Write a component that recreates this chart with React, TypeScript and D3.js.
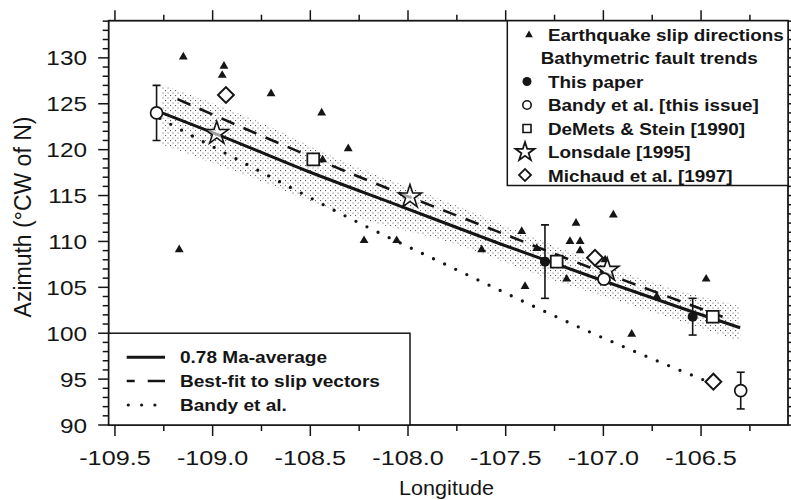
import React from 'react';
import * as d3 from 'd3';

const W = 791;
const H = 500;

// Axes
const xTickValues = [-109.5, -109.0, -108.5, -108.0, -107.5, -107.0, -106.5];
const xTickLabels = ['-109.5', '-109.0', '-108.5', '-108.0', '-107.5', '-107.0', '-106.5'];
const xMinorValues = [-109.25, -108.75, -108.25, -107.75, -107.25, -106.75, -106.25];
const yTickValues = [90, 95, 100, 105, 110, 115, 120, 125, 130];
const yTickLabels = ['90', '95', '100', '105', '110', '115', '120', '125', '130'];
const yMinorValues = d3.range(90, 135, 1).filter((v) => v % 5 !== 0);

// Earthquake slip directions (triangles)
const quakeLon = [-109.15, -108.942, -108.951, -108.701, -108.442, -108.306, -108.437, -109.171, -108.225, -108.058, -107.623, -107.418, -107.401, -107.341, -107.14, -107.171, -107.119, -107.119, -107.188, -106.949, -106.991, -106.474, -106.855, -106.727];
const quakeAz = [130.1, 129.1, 128.1, 126.1, 124.0, 120.1, 118.9, 109.1, 110.1, 110.1, 109.1, 111.1, 105.1, 109.25, 112.0, 110.0, 110.0, 109.0, 105.9, 112.9, 108.0, 105.9, 99.9, 104.0];

// This paper (filled circles) with error
const paperLon = [-107.299, -106.543];
const paperAz = [107.8, 101.8];
const paperErr = [4.0, 2.0];

// Bandy et al. [this issue] (open circles)
const bandyLon = [-109.287, -106.997, -106.297];
const bandyAz = [124.0, 105.9, 93.75];
const bandyErr = [3.0, 0, 2.0];

// DeMets & Stein [1990] (squares)
const demetsLon = [-108.485, -107.239, -106.44];
const demetsAz = [118.94, 107.8, 101.8];

// Lonsdale [1995] (stars)
const lonsLon = [-108.979, -107.99, -106.98];
const lonsAz = [121.78, 114.87, 106.88];

// Michaud et al. [1997] (diamonds)
const michLon = [-108.932, -107.043, -106.437];
const michAz = [125.95, 108.22, 94.72];

// 0.78 Ma-average (solid)
const avgLon = [-109.27, -108.98, -108.52, -108.04, -107.53, -107.02, -106.56, -106.3];
const avgAz = [124.1, 121.7, 117.7, 113.85, 109.75, 105.85, 102.45, 100.6];

// Best-fit to slip vectors (dashed)
const fitLon = [-109.18, -108.2, -107.64, -107.085, -106.39];
const fitAz = [125.5, 116.6, 111.9, 107.3, 101.8];

// Bandy et al. (dotted)
const bandyLineLon = [-109.27, -109.096, -108.851, -108.229, -107.794, -107.034, -106.394];
const bandyLineAz = [123.4, 121.4, 118.68, 111.79, 107.35, 99.8, 94.1];

// Uncertainty band (stippled)
const bandLon = [-109.261, -108.792, -108.297, -107.785, -107.273, -106.761, -106.3];
const bandUpper = [127.1, 123.3, 118.4, 114.2, 109.7, 105.6, 102.9];
const bandLower = [120.6, 116.9, 112.8, 109.9, 105.9, 102.4, 99.1];

const FONT = 'Liberation Sans, Arial, Helvetica, sans-serif';
const INK = '#151515';

const L = 108.7, R = 788, T0 = 20.7, B = 425;
const x = d3.scaleLinear().domain([-109.532, -106.055]).range([L, R]);
const y = d3.scaleLinear().domain([90, 134.05]).range([B, T0]);

const zip = (a: number[], b: number[]) => a.map((v, i) => [v, b[i]] as [number, number]);

const lineGen = d3
  .line<[number, number]>()
  .x((d) => x(d[0]))
  .y((d) => y(d[1]))
  .curve(d3.curveMonotoneX);

const areaGen = d3
  .area<number>()
  .x((d) => x(d))
  .y0((_, i) => y(bandLower[i]))
  .y1((_, i) => y(bandUpper[i]))
  .curve(d3.curveMonotoneX);

const sym = (type: d3.SymbolType, size: number) => d3.symbol().type(type).size(size)() as string;
const triPath = sym(d3.symbolTriangle, 34);
const starPath = sym(d3.symbolStar, 165);
const squarePath = sym(d3.symbolSquare, 140);
const diamondPath = sym(d3.symbolSquare, 125);
const triLeg = sym(d3.symbolTriangle, 26);
const starLeg = sym(d3.symbolStar, 110);
const squareLeg = sym(d3.symbolSquare, 64);
const diamondLeg = sym(d3.symbolSquare, 72);

function Txt(props: { x: number; y: number; size: number; sx?: number; anchor?: string; bold?: boolean; children: React.ReactNode }) {
  const { x: tx, y: ty, size, sx = 1, anchor = 'start', bold = false, children } = props;
  return (
    <text
      transform={`translate(${tx},${ty}) scale(${sx},1)`}
      fontSize={size}
      textAnchor={anchor as any}
      fontWeight={bold ? 'bold' : 'normal'}
      fontFamily={FONT}
      fill={INK}
    >
      {children}
    </text>
  );
}

function ErrBar({ cx, cy, e }: { cx: number; cy: number; e: number }) {
  if (!e) return null;
  const y1 = y(cy + e), y2 = y(cy - e);
  return (
    <g stroke={INK} strokeWidth={1.6}>
      <line x1={x(cx)} x2={x(cx)} y1={y1} y2={y2} />
      <line x1={x(cx) - 4} x2={x(cx) + 4} y1={y1} y2={y1} />
      <line x1={x(cx) - 4} x2={x(cx) + 4} y1={y2} y2={y2} />
    </g>
  );
}

export default function App() {
  const legTextX = 548;
  return (
    <svg width={W} height={H} style={{ position: 'absolute', left: 0, top: 0, background: '#fff' }}>
      <defs>
        <pattern id="stip" width="5" height="5" patternUnits="userSpaceOnUse">
          <rect x="0" y="0" width="1.1" height="1.1" fill="#555" />
          <rect x="2.5" y="2.5" width="1.1" height="1.1" fill="#777" />
        </pattern>
        <clipPath id="plot">
          <rect x={L} y={T0} width={R - L} height={B - T0} />
        </clipPath>
      </defs>
      <rect x={0} y={0} width={W} height={H} fill="#fff" />

      <g clipPath="url(#plot)">
        <path d={areaGen(bandLon) as string} fill="url(#stip)" />
        <path d={lineGen(zip(bandyLineLon, bandyLineAz)) as string} fill="none" stroke={INK} strokeWidth={3.3} strokeDasharray="0 12.3" strokeLinecap="round" />
        <path d={lineGen(zip(fitLon, fitAz)) as string} fill="none" stroke={INK} strokeWidth={2.6} strokeDasharray="14 10" />
        <path d={lineGen(zip(avgLon, avgAz)) as string} fill="none" stroke={INK} strokeWidth={3} />

        {paperLon.map((v, i) => (
          <ErrBar key={'pe' + i} cx={v} cy={paperAz[i]} e={paperErr[i]} />
        ))}
        {bandyLon.map((v, i) => (
          <ErrBar key={'be' + i} cx={v} cy={bandyAz[i]} e={bandyErr[i]} />
        ))}

        {quakeLon.map((v, i) => (
          <path key={'q' + i} d={triPath} transform={`translate(${x(v)},${y(quakeAz[i])})`} fill={INK} />
        ))}
        {michLon.map((v, i) => (
          <path key={'m' + i} d={diamondPath} transform={`translate(${x(v)},${y(michAz[i])}) rotate(45)`} fill="#fff" stroke={INK} strokeWidth={2} />
        ))}
        {demetsLon.map((v, i) => (
          <path key={'d' + i} d={squarePath} transform={`translate(${x(v)},${y(demetsAz[i])})`} fill="#fff" stroke={INK} strokeWidth={1.8} />
        ))}
        {lonsLon.map((v, i) => (
          <path key={'l' + i} d={starPath} transform={`translate(${x(v)},${y(lonsAz[i])})`} fill="#fff" fillOpacity={0.6} stroke={INK} strokeWidth={1.6} />
        ))}
        {bandyLon.map((v, i) => (
          <circle key={'b' + i} cx={x(v)} cy={y(bandyAz[i])} r={6} fill="#fff" stroke={INK} strokeWidth={1.7} />
        ))}
        {paperLon.map((v, i) => (
          <circle key={'p' + i} cx={x(v)} cy={y(paperAz[i])} r={5} fill={INK} />
        ))}
      </g>

      {/* ticks */}
      <g stroke={INK} strokeWidth={1.5}>
        {xTickValues.map((v) => (
          <g key={'xt' + v}>
            <line x1={x(v)} x2={x(v)} y1={B} y2={B + 11} />
            <line x1={x(v)} x2={x(v)} y1={T0} y2={T0 - 10.5} />
          </g>
        ))}
        {xMinorValues.map((v) => (
          <g key={'xm' + v}>
            <line x1={x(v)} x2={x(v)} y1={B} y2={B + 6} />
            <line x1={x(v)} x2={x(v)} y1={T0} y2={T0 - 6} />
          </g>
        ))}
        {yTickValues.map((v) => (
          <g key={'yt' + v}>
            <line x1={L} x2={L - 10.5} y1={y(v)} y2={y(v)} />
            <line x1={R} x2={R + 10} y1={y(v)} y2={y(v)} />
          </g>
        ))}
        {yMinorValues.map((v) => (
          <g key={'ym' + v}>
            <line x1={L} x2={L - 6} y1={y(v)} y2={y(v)} />
            <line x1={R} x2={R + 6} y1={y(v)} y2={y(v)} />
          </g>
        ))}
      </g>

      {/* frame */}
      <rect x={L} y={T0} width={R - L} height={B - T0} fill="none" stroke={INK} strokeWidth={1.8} />

      {/* tick labels */}
      {xTickValues.map((v, i) => (
        <Txt key={'xl' + v} x={x(v)} y={464.5} size={21} sx={1.2} anchor="middle">
          {xTickLabels[i]}
        </Txt>
      ))}
      {yTickValues.map((v, i) => (
        <Txt key={'yl' + v} x={87} y={y(v) + 7.5} size={21} sx={1.16} anchor="end">
          {yTickLabels[i]}
        </Txt>
      ))}

      <Txt x={446.5} y={494.5} size={20} sx={1.08} anchor="middle">
        Longitude
      </Txt>
      <text transform="translate(31,217) rotate(-90)" fontSize={23} fontFamily={FONT} fill={INK} textAnchor="middle">
        Azimuth (°CW of N)
      </text>

      {/* top-right legend */}
      <rect x={507.3} y={T0} width={R - 507.3} height={185.5 - T0} fill="#fff" stroke={INK} strokeWidth={1.5} />
      <path d={triLeg} transform="translate(529,35)" fill={INK} />
      <Txt x={legTextX} y={41} size={16} sx={1.18} bold>Earthquake slip directions</Txt>
      <Txt x={540.7} y={64.3} size={16} sx={1.18} bold>Bathymetric fault trends</Txt>
      <circle cx={527} cy={81.5} r={4.5} fill={INK} />
      <Txt x={legTextX} y={87.7} size={16} sx={1.18} bold>This paper</Txt>
      <circle cx={527} cy={105} r={4.2} fill="#fff" stroke={INK} strokeWidth={1.6} />
      <Txt x={legTextX} y={111.2} size={16} sx={1.18} bold>Bandy et al. [this issue]</Txt>
      <path d={squareLeg} transform="translate(527,128.5)" fill="#fff" stroke={INK} strokeWidth={1.6} />
      <Txt x={legTextX} y={134.7} size={16} sx={1.18} bold>DeMets &amp; Stein [1990]</Txt>
      <path d={starLeg} transform="translate(525,152)" fill="#fff" stroke={INK} strokeWidth={1.8} />
      <Txt x={legTextX} y={158.2} size={16} sx={1.18} bold>Lonsdale [1995]</Txt>
      <path d={diamondLeg} transform="translate(525,175) rotate(45)" fill="#fff" stroke={INK} strokeWidth={1.8} />
      <Txt x={legTextX} y={181.5} size={16} sx={1.18} bold>Michaud et al. [1997]</Txt>

      {/* bottom-left legend */}
      <rect x={L} y={y(100)} width={410 - L} height={B - y(100)} fill="#fff" stroke={INK} strokeWidth={1.5} />
      <line x1={126.7} x2={165} y1={357.3} y2={357.3} stroke={INK} strokeWidth={3} />
      <Txt x={180} y={363.3} size={16} sx={1.19} bold>0.78 Ma-average</Txt>
      <line x1={126.7} x2={165} y1={381} y2={381} stroke={INK} strokeWidth={2.6} strokeDasharray="8 13 18 0" />
      <Txt x={180} y={386.9} size={16} sx={1.19} bold>Best-fit to slip vectors</Txt>
      <line x1={128.3} x2={156} y1={405} y2={405} stroke={INK} strokeWidth={3.2} strokeDasharray="0 13.3" strokeLinecap="round" />
      <Txt x={180} y={410.5} size={16} sx={1.19} bold>Bandy et al.</Txt>
    </svg>
  );
}
